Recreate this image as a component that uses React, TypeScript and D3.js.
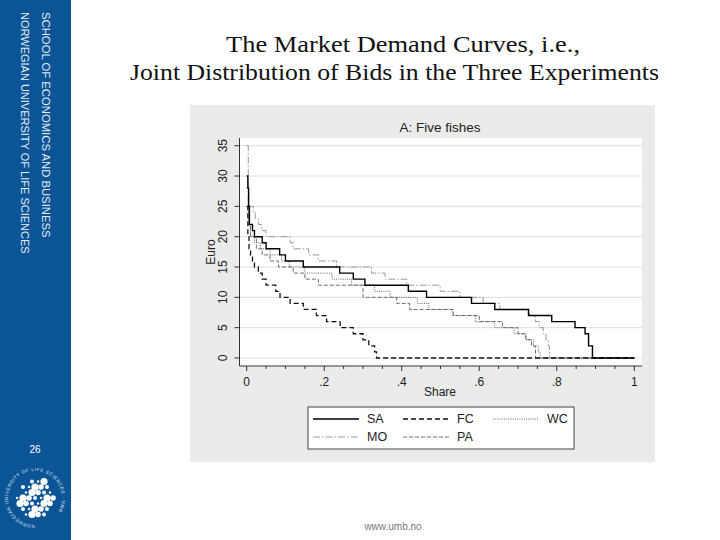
import React from "react";
import * as d3 from "d3";

// axis ticks
const SHARE_TICKS = [0, 0.2, 0.4, 0.6, 0.8, 1];
const SHARE_LABELS = ["0", ".2", ".4", ".6", ".8", "1"];
const EURO_TICKS = [0, 5, 10, 15, 20, 25, 30, 35];

// demand curves: [share, euro] where each step starts
const SA: [number, number][] = [
  [0, 30], [0.003, 28], [0.005, 25], [0.007, 22], [0.015, 21], [0.02, 20], [0.04, 19],
  [0.05, 18], [0.085, 17], [0.1, 16], [0.146, 15], [0.24, 14], [0.275, 13], [0.305, 12],
  [0.417, 11], [0.464, 10], [0.58, 9], [0.64, 8], [0.727, 7], [0.787, 6], [0.847, 5],
  [0.873, 4], [0.882, 2], [0.892, 0], [1, 0],
];
const FC: [number, number][] = [
  [0, 25], [0.003, 20], [0.006, 18], [0.01, 17], [0.015, 16], [0.02, 15], [0.03, 14],
  [0.04, 13], [0.05, 12], [0.075, 11], [0.086, 10], [0.112, 9], [0.146, 8], [0.18, 7],
  [0.206, 6], [0.241, 5], [0.275, 4], [0.3, 3], [0.315, 2], [0.33, 1], [0.335, 0], [1, 0],
];
const WC: [number, number][] = [
  [0, 28], [0.004, 22], [0.01, 20], [0.02, 19], [0.035, 18], [0.06, 17], [0.09, 16],
  [0.11, 15], [0.15, 14], [0.22, 13], [0.27, 12], [0.33, 11], [0.37, 10], [0.44, 9],
  [0.47, 8], [0.53, 7], [0.59, 6], [0.64, 5], [0.69, 4], [0.72, 3], [0.74, 2],
  [0.752, 1], [0.757, 0], [1, 0],
];
const MO: [number, number][] = [
  [0, 35], [0.004, 25], [0.017, 24], [0.022, 23], [0.03, 22], [0.038, 21], [0.05, 20],
  [0.112, 19], [0.12, 18], [0.16, 17], [0.185, 16], [0.232, 15], [0.322, 14], [0.357, 13],
  [0.413, 12], [0.499, 11], [0.55, 10], [0.61, 9], [0.653, 8], [0.73, 7], [0.745, 6],
  [0.755, 5], [0.765, 4], [0.772, 3], [0.778, 2], [0.781, 0], [1, 0],
];
const PA: [number, number][] = [
  [0, 25], [0.006, 22], [0.01, 20], [0.025, 18], [0.04, 17], [0.06, 16], [0.082, 15],
  [0.12, 14], [0.15, 13], [0.185, 12], [0.3, 10], [0.387, 9], [0.42, 8], [0.533, 7],
  [0.6, 6], [0.66, 5], [0.7, 4], [0.72, 3], [0.735, 2], [0.745, 0], [1, 0],
];

const SERIES = [
  { name: "MO", data: MO, color: "#9a9a9a", dash: "7,2,1.5,2", width: 1 },
  { name: "PA", data: PA, color: "#6e6e6e", dash: "4,2", width: 1 },
  { name: "WC", data: WC, color: "#666666", dash: "1,1.2", width: 1 },
  { name: "FC", data: FC, color: "#111111", dash: "5,3", width: 1.3 },
  { name: "SA", data: SA, color: "#000000", dash: "", width: 1.4 },
];
const LEGEND_ORDER = ["SA", "FC", "WC", "MO", "PA"];

const SANS = "'Liberation Sans', Arial, sans-serif";
const SERIF = "'Liberation Serif', 'Times New Roman', serif";

const plot = { left: 239.5, right: 642, top: 138, bottom: 366 };

export default function App() {
  const x = d3.scaleLinear().domain([0, 1]).range([246.7, 634.3]);
  const y = d3.scaleLinear().domain([0, 35]).range([358, 145.7]);
  const line = d3
    .line<[number, number]>()
    .x((d) => x(d[0]))
    .y((d) => y(d[1]))
    .curve(d3.curveStepAfter);
  const minor = d3.range(0, 20).map((i) => i * 0.05).filter((v) => Math.round(v * 100) % 20 !== 0);

  // logo dots (decoration)
  const logoDots: { cx: number; cy: number; r: number }[] = [];
  for (let i = -3; i <= 3; i++) {
    for (let j = -3; j <= 3; j++) {
      const dx = i * 6 + (j % 2 ? 3 : 0);
      const dy = j * 5.5;
      const dist = Math.hypot(dx, dy);
      if (dist > 19) continue;
      const r = ((i * 7 + j * 3 + 21) % 4) * 0.8 + 1.2;
      logoDots.push({ cx: 35 + dx, cy: 498 + dy, r });
    }
  }

  return (
    <svg
      width={720}
      height={540}
      style={{ position: "absolute", left: 0, top: 0, background: "#fff" }}
    >
      {/* sidebar */}
      <rect x={0} y={0} width={71} height={540} fill="#0b5495" />
      <text
        transform="translate(46,12) rotate(90)"
        dominantBaseline="central"
        fontFamily={SANS}
        fontSize={11.3}
        fill="#e6edf5"
      >
        SCHOOL OF ECONOMICS AND BUSINESS
      </text>
      <text
        transform="translate(25,12) rotate(90)"
        dominantBaseline="central"
        fontFamily={SANS}
        fontSize={11}
        fill="#e6edf5"
      >
        NORWEGIAN UNIVERSITY OF LIFE SCIENCES
      </text>
      <text x={35} y={453} textAnchor="middle" fontFamily={SANS} fontSize={10} fill="#fff">
        26
      </text>
      <defs>
        <path id="logo-ring" d="M 35 525 A 27 27 0 1 1 35.01 525" />
      </defs>
      <text fontFamily={SANS} fontSize={4.6} fill="#dbe6f2" letterSpacing={0.6}>
        <textPath href="#logo-ring">NORWEGIAN UNIVERSITY OF LIFE SCIENCES · UMB ·</textPath>
      </text>
      {logoDots.map((d, i) => (
        <circle key={i} cx={d.cx} cy={d.cy} r={d.r} fill="#ffffff" />
      ))}

      {/* slide title */}
      <text
        x={226}
        y={52}
        textLength={354}
        lengthAdjust="spacingAndGlyphs"
        fontFamily={SERIF}
        fontSize={23.5}
        fill="#111"
      >
        The Market Demand Curves, i.e.,
      </text>
      <text
        x={130}
        y={80}
        textLength={529}
        lengthAdjust="spacingAndGlyphs"
        fontFamily={SERIF}
        fontSize={23.5}
        fill="#111"
      >
        Joint Distribution of Bids in the Three Experiments
      </text>
      <text x={393} y={530} textAnchor="middle" fontFamily={SANS} fontSize={10} fill="#777">
        www.umb.no
      </text>

      {/* chart panel */}
      <rect x={190} y={105} width={465} height={357} fill="#ebebeb" />
      <rect
        x={plot.left}
        y={plot.top}
        width={plot.right - plot.left}
        height={plot.bottom - plot.top}
        fill="#ffffff"
      />
      <text x={440} y={132} textAnchor="middle" fontFamily={SANS} fontSize={13.5} fill="#222">
        A: Five fishes
      </text>

      {/* grid */}
      {EURO_TICKS.map((t) => (
        <line
          key={t}
          x1={plot.left}
          x2={plot.right}
          y1={y(t)}
          y2={y(t)}
          stroke="#dedede"
          strokeWidth={1}
        />
      ))}

      {/* axes */}
      <line x1={plot.left} x2={plot.left} y1={plot.top} y2={plot.bottom} stroke="#333" />
      <line x1={plot.left} x2={plot.right} y1={plot.bottom} y2={plot.bottom} stroke="#333" />
      {EURO_TICKS.map((t) => (
        <g key={t}>
          <line x1={plot.left - 5} x2={plot.left} y1={y(t)} y2={y(t)} stroke="#333" />
          <text
            transform={`translate(223,${y(t)}) rotate(-90)`}
            textAnchor="middle"
            dominantBaseline="central"
            fontFamily={SANS}
            fontSize={12}
            fill="#222"
          >
            {t}
          </text>
        </g>
      ))}
      <text
        transform={`translate(211,252) rotate(-90)`}
        textAnchor="middle"
        dominantBaseline="central"
        fontFamily={SANS}
        fontSize={12}
        fill="#222"
      >
        Euro
      </text>
      {SHARE_TICKS.map((t, i) => (
        <g key={t}>
          <line x1={x(t)} x2={x(t)} y1={plot.bottom} y2={plot.bottom + 5} stroke="#333" />
          <text
            x={x(t)}
            y={381.5}
            textAnchor="middle"
            dominantBaseline="central"
            fontFamily={SANS}
            fontSize={12}
            fill="#222"
          >
            {SHARE_LABELS[i]}
          </text>
        </g>
      ))}
      {minor.map((t) => (
        <line key={t} x1={x(t)} x2={x(t)} y1={plot.bottom} y2={plot.bottom + 3} stroke="#333" />
      ))}
      <text
        x={440}
        y={392}
        textAnchor="middle"
        dominantBaseline="central"
        fontFamily={SANS}
        fontSize={12}
        fill="#222"
      >
        Share
      </text>

      {/* curves */}
      {SERIES.map((s) => (
        <path
          key={s.name}
          d={line(s.data) ?? ""}
          fill="none"
          stroke={s.color}
          strokeWidth={s.width}
          strokeDasharray={s.dash || undefined}
        />
      ))}

      {/* legend */}
      <rect x={308} y={407} width={266} height={42} fill="#fff" stroke="#444" strokeWidth={1} />
      {LEGEND_ORDER.map((name, i) => {
        const s = SERIES.find((d) => d.name === name)!;
        const col = i % 3;
        const row = Math.floor(i / 3);
        const lx = 313 + col * 90;
        const ly = 419 + row * 18;
        return (
          <g key={name}>
            <line
              x1={lx}
              x2={lx + 46}
              y1={ly}
              y2={ly}
              stroke={s.color}
              strokeWidth={s.width}
              strokeDasharray={s.dash || undefined}
            />
            <text
              x={lx + 54}
              y={ly}
              dominantBaseline="central"
              fontFamily={SANS}
              fontSize={12.5}
              fill="#222"
            >
              {name}
            </text>
          </g>
        );
      })}
    </svg>
  );
}
